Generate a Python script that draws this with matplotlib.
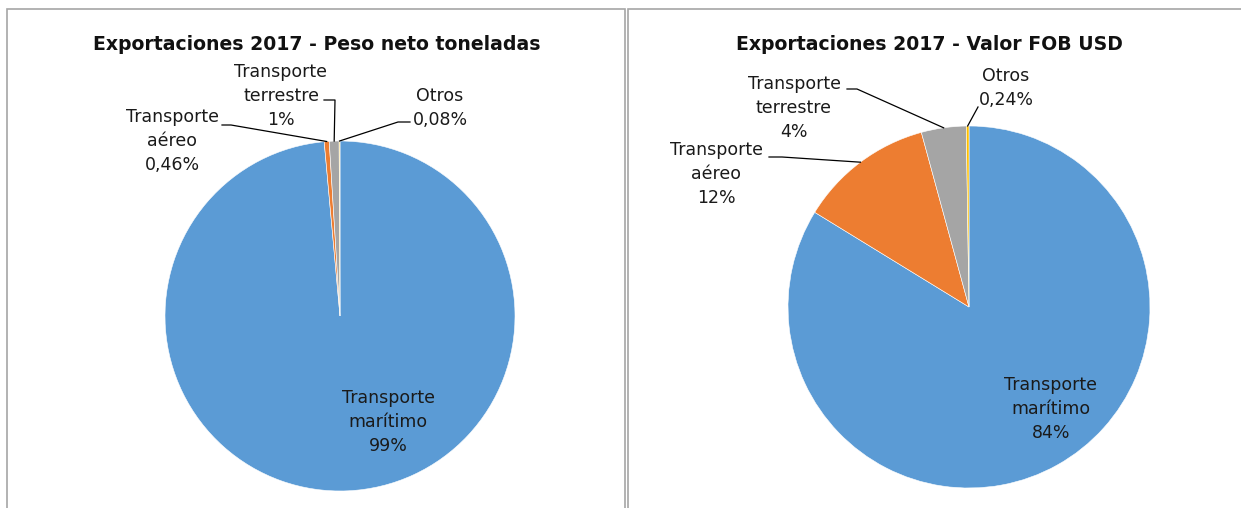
import numpy as np
import matplotlib.pyplot as plt
from matplotlib.patches import Rectangle

# Data
categories = ['Transporte marítimo', 'Transporte aéreo', 'Transporte terrestre', 'Otros']
peso_neto = [98.56, 0.46, 0.90, 0.08]
valor_fob = [83.76, 12.00, 4.00, 0.24]
peso_labels = ['Transporte\nmarítimo\n99%', 'Transporte\naéreo\n0,46%',
               'Transporte\nterrestre\n1%', 'Otros\n0,08%']
fob_labels = ['Transporte\nmarítimo\n84%', 'Transporte\naéreo\n12%',
              'Transporte\nterrestre\n4%', 'Otros\n0,24%']
titles = ['Exportaciones 2017 - Peso neto toneladas',
          'Exportaciones 2017 - Valor FOB USD']

colors = ['#5B9BD5', '#ED7D31', '#A5A5A5', '#FFC000']

# Layout (pixel coords, y measured from top)
W, H = 1241, 508
panels = [
    dict(box=(7, 9, 625), center=(340, 316), radius=175, title_x=317,
         text=[(388, 422), (172, 141), (281, 96), (440, 108)],
         leader=[None, ((222, 125), (231, 125)), ((324, 100), (335, 100)),
                 ((410, 122), (398, 122))]),
    dict(box=(628, 9, 1250), center=(969, 307), radius=181, title_x=929,
         text=[(1051, 409), (716, 174), (794, 108), (1006, 88)],
         leader=[None, ((769, 157), (782, 157)), ((847, 89), (857, 89)),
                 ((978, 107), (978, 107))]),
]
datasets = [(peso_neto, peso_labels), (valor_fob, fob_labels)]

plt.rcParams['font.family'] = ['DejaVu Sans']

fig = plt.figure(figsize=(W / 100, H / 100), dpi=100)
ax = fig.add_axes([0, 0, 1, 1])


def Y(y):
    return H - y


for p, (values, labels), title in zip(panels, datasets, titles):
    x0, y0, x1 = p['box']
    ax.add_patch(Rectangle((x0, Y(H + 20)), x1 - x0, (H + 20) - y0,
                           fill=False, edgecolor='#A6A6A6', linewidth=1.2))
    cx, cy = p['center']
    wedges, _ = ax.pie(values, colors=colors, startangle=90, counterclock=False,
                       radius=p['radius'], center=(cx, Y(cy)),
                       wedgeprops=dict(edgecolor='white', linewidth=0.4))
    ax.text(p['title_x'], Y(45), title, ha='center', va='center',
            fontsize=13.6, fontweight='bold', color='#111111')
    for w, lab, (tx, ty), lead in zip(wedges, labels, p['text'], p['leader']):
        ax.text(tx, Y(ty), lab, ha='center', va='center', multialignment='center',
                fontsize=12.5, linespacing=1.42, color='#1a1a1a')
        if lead is None:
            continue
        mid = np.deg2rad((w.theta1 + w.theta2) / 2)
        wx = w.center[0] + w.r * np.cos(mid)
        wy = w.center[1] + w.r * np.sin(mid)
        (sx, sy), (ex, ey) = lead
        ax.plot([sx, ex, wx], [Y(sy), Y(ey), wy], color='black', linewidth=0.9)

ax.set_xlim(0, W)
ax.set_ylim(0, H)
ax.set_aspect('equal')
ax.axis('off')

fig.savefig('out.png', dpi=100)
